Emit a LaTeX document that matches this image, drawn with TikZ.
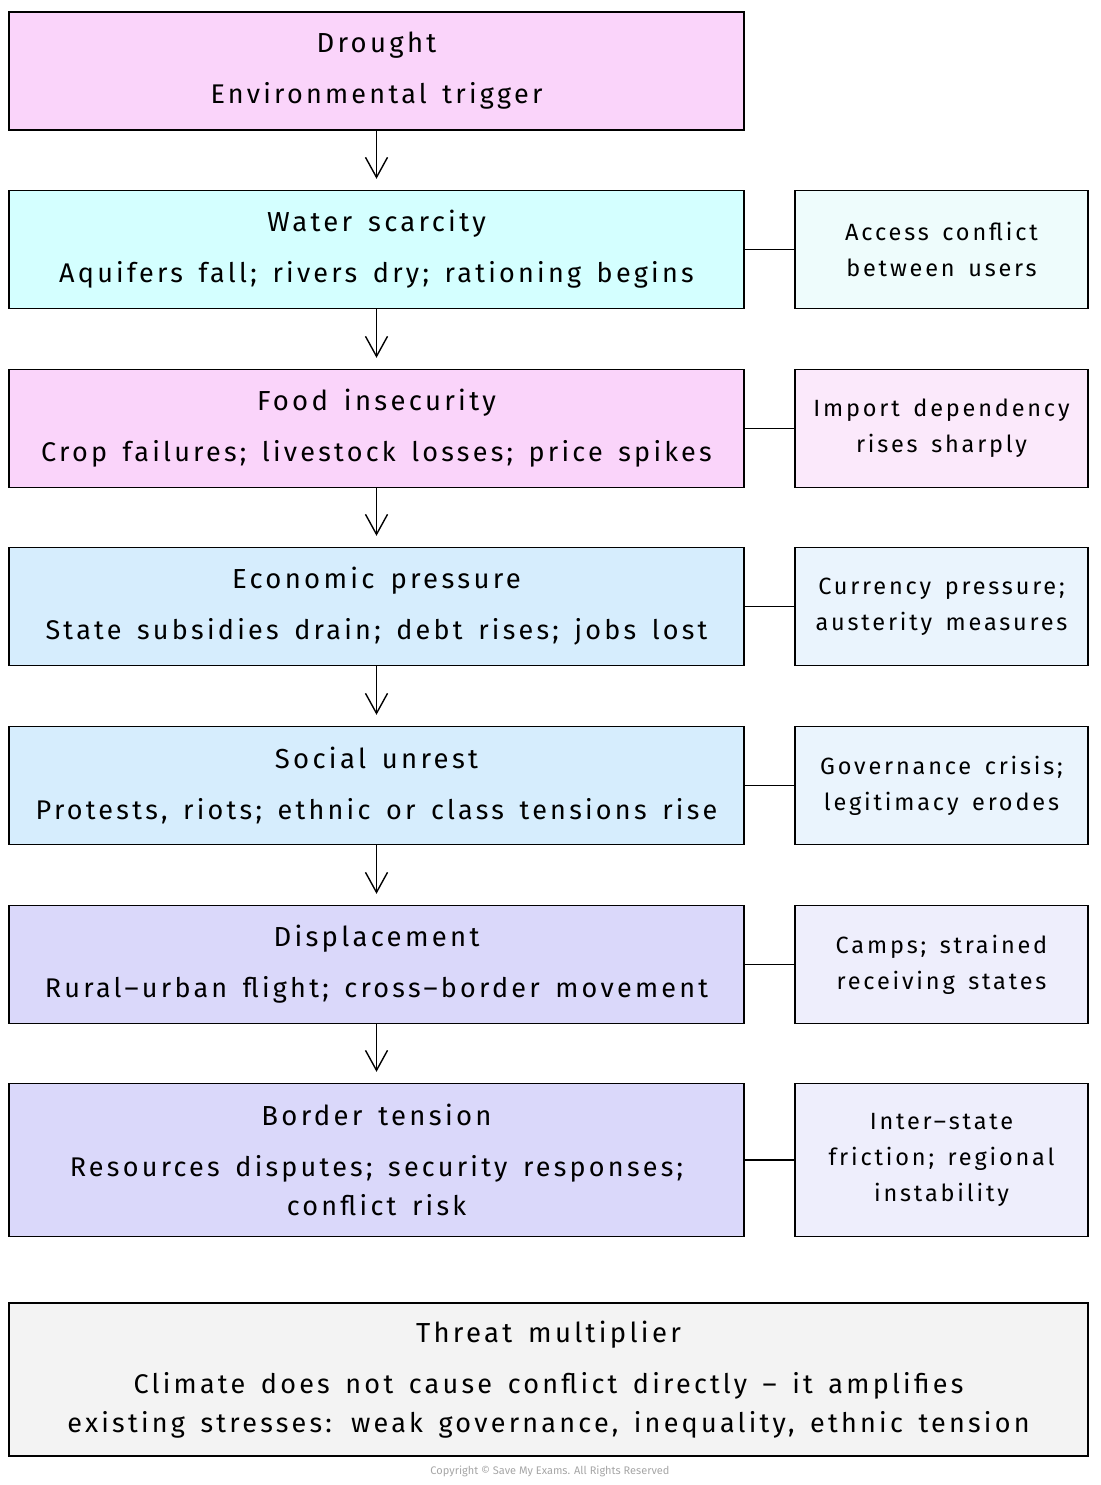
\documentclass[tikz,border=0pt]{standalone}
\usepackage{fontspec}
\setmainfont[LetterSpace=12,WordSpace=1.5]{Fira Sans}
\newfontfamily\copyfont{Fira Sans}
\usetikzlibrary{arrows.meta,positioning}
\definecolor{cpink}{HTML}{FAD4FA}
\definecolor{ccyan}{HTML}{D4FFFF}
\definecolor{cblue}{HTML}{D6EDFD}
\definecolor{clav}{HTML}{DAD8FA}
\definecolor{spink}{HTML}{FBE9FB}
\definecolor{scyan}{HTML}{EEFCFC}
\definecolor{sblue}{HTML}{EAF4FD}
\definecolor{slav}{HTML}{EEEEFC}
\definecolor{cgray}{HTML}{F3F3F3}
\tikzset{
  x=1pt,y=1pt,
  mainbox/.style={draw=black,line width=1.4pt,minimum width=735pt,align=center,inner sep=0pt,
    font=\fontsize{27}{39}\selectfont},
  sidebox/.style={draw=black,line width=1.4pt,minimum width=293pt,align=center,inner sep=0pt,
    font=\fontsize{23.5}{36}\selectfont},
  flow/.style={line width=1.4pt,-{Straight Barb[length=20pt,width=22pt,line width=1.4pt]},shorten >=11pt},
  link/.style={line width=1.4pt}
}
\newcommand{\ttl}[1]{{\fontsize{27.5}{39}\selectfont #1}\\[12pt]}
\begin{document}
\begin{tikzpicture}
\useasboundingbox (0,0) rectangle (1100,-1485);
% main boxes
\node[mainbox,fill=cpink,minimum height=118pt] (b1) at (376.5,-71) {\ttl{Drought}Environmental trigger};
\node[mainbox,fill=ccyan,minimum height=118pt] (b2) at (376.5,-249.5) {\ttl{Water scarcity}Aquifers fall; rivers dry; rationing begins};
\node[mainbox,fill=cpink,minimum height=118pt] (b3) at (376.5,-428.5) {\ttl{Food insecurity}Crop failures; livestock losses; price spikes};
\node[mainbox,fill=cblue,minimum height=118pt] (b4) at (376.5,-606.5) {\ttl{Economic pressure}State subsidies drain; debt rises; jobs lost};
\node[mainbox,fill=cblue,minimum height=118pt] (b5) at (376.5,-785.5) {\ttl{Social unrest}Protests, riots; ethnic or class tensions rise};
\node[mainbox,fill=clav,minimum height=118pt] (b6) at (376.5,-964.5) {\ttl{Displacement}Rural--urban flight; cross--border movement};
\node[mainbox,fill=clav,minimum height=153pt] (b7) at (376.5,-1160) {\ttl{Border tension}Resources disputes; security responses;\\conflict risk};
% side boxes
\node[sidebox,fill=scyan,minimum height=118pt] (s2) at (941.5,-249.5) {Access conflict\\between users};
\node[sidebox,fill=spink,minimum height=118pt] (s3) at (941.5,-428.5) {Import dependency\\rises sharply};
\node[sidebox,fill=sblue,minimum height=118pt] (s4) at (941.5,-606.5) {Currency pressure;\\austerity measures};
\node[sidebox,fill=sblue,minimum height=118pt] (s5) at (941.5,-785.5) {Governance crisis;\\legitimacy erodes};
\node[sidebox,fill=slav,minimum height=118pt] (s6) at (941.5,-964.5) {Camps; strained\\receiving states};
\node[sidebox,fill=slav,minimum height=153pt] (s7) at (941.5,-1160) {Inter--state\\friction; regional\\instability};
% threat box
\node[mainbox,fill=cgray,minimum width=1079pt,minimum height=153pt] (t) at (548.5,-1379.5) {\ttl{Threat multiplier}Climate does not cause conflict directly -- it amplifies\\existing stresses: weak governance, inequality, ethnic tension};
\node[font=\copyfont\fontsize{11}{13}\selectfont,text=black!35] (copy) at (550,-1471) {Copyright © Save My Exams. All Rights Reserved};
% arrows
\foreach \a/\b in {b1/b2,b2/b3,b3/b4,b4/b5,b5/b6,b6/b7}
  \draw[flow] (\a.south) -- (\b.north);
\foreach \i in {2,...,7}
  \draw[link] (b\i.east) -- (s\i.west);
\end{tikzpicture}
\end{document}
